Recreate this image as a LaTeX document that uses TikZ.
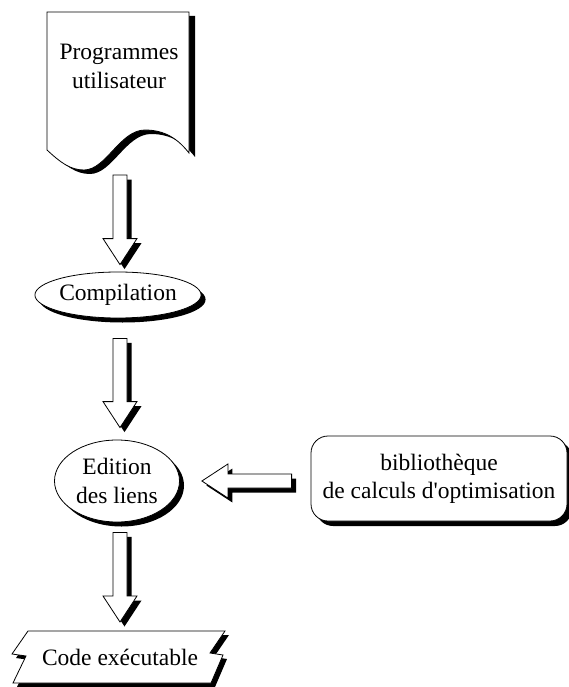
\documentclass[tikz,border=0pt]{standalone}
\usepackage{fontspec}
\setmainfont{Liberation Serif}
\usetikzlibrary{arrows.meta, positioning, shapes.geometric, calc, shadows}
\definecolor{mink}{HTML}{000000}
\definecolor{mpaper}{HTML}{FFFFFF}
\tikzset{
  blk/.style={drop shadow={shadow xshift=#1, shadow yshift=-#1, fill=mink, opacity=1}},
  blk/.default=4pt,
  outl/.style={draw=mink, fill=mpaper, line width=0.8pt},
  ovalbox/.style={outl, ellipse, inner sep=0pt, align=center,
                  font=\fontsize{23.5}{29}\selectfont},
  libbox/.style={outl, rectangle, rounded corners=17pt, inner sep=0pt, align=center,
                 font=\fontsize{23.5}{28}\selectfont},
  txt/.style={align=center, inner sep=0pt, font=\fontsize{23.5}{29}\selectfont},
  fatarrow/.style={outl, blk=4.5pt, to path={let \p1=(\tikztostart), \p2=(\tikztotarget) in
    ($(\p1)!7pt!90:(\p2)$) -- ($(\p2)!26pt!(\p1)!7pt!-90:(\p1)$)
    -- ($(\p2)!26pt!(\p1)!17pt!-90:(\p1)$) -- (\p2)
    -- ($(\p2)!26pt!(\p1)!17pt!90:(\p1)$) -- ($(\p2)!26pt!(\p1)!7pt!90:(\p1)$)
    -- ($(\p1)!7pt!-90:(\p2)$) -- cycle}},
}

\begin{document}
\begin{tikzpicture}[x=1pt, y=-1pt]
  \useasboundingbox (0,0) rectangle (569,687);

  % feuille des programmes
  \filldraw[outl, drop shadow={shadow xshift=6pt, shadow yshift=-4pt, fill=mink, opacity=1}]
    (47,12) -- (189,12) -- (189,153)
    .. controls (178,139) and (165,130) .. (145,130)
    .. controls (120,130) and (106,170) .. (84,170)
    .. controls (70,170) and (60,162) .. (47,150) -- cycle;
  \node[txt] (doc) at (119,66) {Programmes\\utilisateur};
  \coordinate (docb) at (120,175);

  % etapes
  \node[ovalbox, blk=4.5pt, minimum width=142pt, minimum height=46pt] (comp) at (118,295) {Compilation};
  \node[ovalbox, blk=4.5pt, minimum width=125pt, minimum height=82pt] (edit) at (117,481) {Edition\\des liens};
  \node[libbox, blk=5pt, minimum width=256pt, minimum height=85pt] (lib) at (439,478.5)
    {bibliothèque\\de calculs d\textquotesingle optimisation};

  % code executable
  \filldraw[outl, blk=4pt]
    (28,631) -- (225,631) -- (210,653) -- (223,655) -- (211,683)
    -- (13,683) -- (26,656) -- (12,654) -- cycle;
  \node[txt] (code) at (120,657) {Code exécutable};

  % fleches
  \coordinate (a1e) at ([shift={(2,-7)}]comp.north);
  \coordinate (a2s) at ([shift={(2,20)}]comp.south);
  \coordinate (a2e) at ([shift={(3,-12)}]edit.north);
  \coordinate (a3s) at ([shift={(3,10)}]edit.south);
  \coordinate (a3e) at (code.north |- 0,622);
  \coordinate (a4s) at ([shift={(-19,2.5)}]lib.west);
  \coordinate (a4e) at ([xshift=22pt]edit.east);
  \draw[fatarrow] (docb) to (a1e);
  \draw[fatarrow] (a2s) to (a2e);
  \draw[fatarrow] (a3s) to (a3e);
  \draw[fatarrow] (a4s) to (a4e);
\end{tikzpicture}
\end{document}
